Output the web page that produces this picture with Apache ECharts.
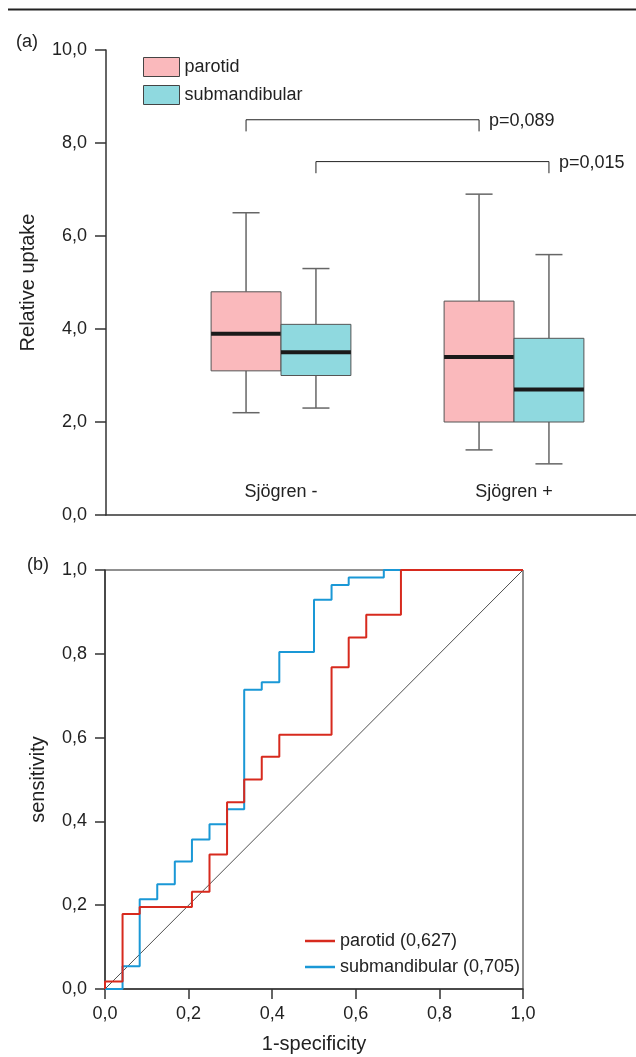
<!DOCTYPE html>
<html><head><meta charset="utf-8">
<script src="https://cdn.jsdelivr.net/npm/echarts@6/dist/echarts.min.js"></script>
<style>html,body{margin:0;padding:0;background:#fff}#c{width:636px;height:1057px}</style>
</head><body><div id="c"></div>
<script>
// ---------- data ----------
const groups = ['Sjögren -', 'Sjögren +'];
// [min, Q1, median, Q3, max]
const parotidBox = [[2.2, 3.1, 3.9, 4.8, 6.5], [1.4, 2.0, 3.4, 4.6, 6.9]];
const submandibularBox = [[2.3, 3.0, 3.5, 4.1, 5.3], [1.1, 2.0, 2.7, 3.8, 5.6]];
// [fromGroup, toGroup, side(-1 parotid / 1 submandibular), top, end]
const brackets = [[0, 1, -1, 8.5, 8.25], [0, 1, 1, 7.6, 7.35]];
const bracketLabels = ['p=0,089', 'p=0,015'];
const rocParotid = [[0,0],[0,0.018],[0.042,0.018],[0.042,0.179],[0.083,0.179],[0.083,0.196],[0.208,0.196],[0.208,0.232],[0.25,0.232],[0.25,0.321],[0.292,0.321],[0.292,0.446],[0.333,0.446],[0.333,0.5],[0.375,0.5],[0.375,0.554],[0.417,0.554],[0.417,0.607],[0.542,0.607],[0.542,0.768],[0.583,0.768],[0.583,0.839],[0.625,0.839],[0.625,0.893],[0.708,0.893],[0.708,1],[1,1]];
const rocSubmandibular = [[0,0],[0.042,0],[0.042,0.054],[0.083,0.054],[0.083,0.214],[0.125,0.214],[0.125,0.25],[0.167,0.25],[0.167,0.304],[0.208,0.304],[0.208,0.357],[0.25,0.357],[0.25,0.393],[0.292,0.393],[0.292,0.429],[0.333,0.429],[0.333,0.714],[0.375,0.714],[0.375,0.732],[0.417,0.732],[0.417,0.804],[0.5,0.804],[0.5,0.929],[0.542,0.929],[0.542,0.964],[0.583,0.964],[0.583,0.982],[0.667,0.982],[0.667,1],[1,1]];
const diagonal = [[0, 0], [1, 1]];
const rocNames = ['parotid (0,627)', 'submandibular (0,705)'];

// ---------- styles ----------
const FONT = 'Liberation Sans, Arial, Helvetica, sans-serif';
const PINK = '#FAB9BC', CYAN = '#8FD9DF';
const RED = '#D72A1E', BLUE = '#1A98D6';
const AX = '#333';
const comma1 = v => v.toFixed(1).replace('.', ',');

function boxRender(side) {
  return function (params, api) {
    const g = api.value(0);
    const cx = api.coord([g, 0])[0];
    const band = api.size([1, 0])[0];
    const w = band * 0.3;
    const x0 = side < 0 ? cx - w : cx;
    const x1 = x0 + w;
    const xm = (x0 + x1) / 2;
    const cap = band * 0.058;
    const y = i => api.coord([g, api.value(i)])[1];
    const yMin = y(1), yQ1 = y(2), yMed = y(3), yQ3 = y(4), yMax = y(5);
    const wStyle = { stroke: '#666', lineWidth: 1.5 };
    return {
      type: 'group',
      children: [
        { type: 'line', shape: { x1: xm, y1: yMax, x2: xm, y2: yQ3 }, style: wStyle },
        { type: 'line', shape: { x1: xm, y1: yQ1, x2: xm, y2: yMin }, style: wStyle },
        { type: 'line', shape: { x1: xm - cap, y1: yMax, x2: xm + cap, y2: yMax }, style: wStyle },
        { type: 'line', shape: { x1: xm - cap, y1: yMin, x2: xm + cap, y2: yMin }, style: wStyle },
        { type: 'rect', shape: { x: x0, y: yQ3, width: w, height: yQ1 - yQ3 },
          style: { fill: api.visual('color'), stroke: '#555', lineWidth: 1 } },
        { type: 'line', shape: { x1: x0, y1: yMed, x2: x1, y2: yMed }, style: { stroke: '#1a1a1a', lineWidth: 4 } }
      ]
    };
  };
}

function bracketRender(params, api) {
  const band = api.size([1, 0])[0];
  const side = api.value(2);
  const xa = api.coord([api.value(0), 0])[0] + side * band * 0.15;
  const xb = api.coord([api.value(1), 0])[0] + side * band * 0.15;
  const yt = api.coord([0, api.value(3)])[1];
  const ye = api.coord([0, api.value(4)])[1];
  return {
    type: 'group',
    children: [
      { type: 'polyline', shape: { points: [[xa, ye], [xa, yt], [xb, yt], [xb, ye]] },
        style: { stroke: '#222', lineWidth: 1, fill: null } },
      { type: 'text', x: xb + 10, y: yt + 1,
        style: { text: bracketLabels[params.dataIndex], font: '18px ' + FONT, fill: '#222', verticalAlign: 'middle', align: 'left' } }
    ]
  };
}

const chart = echarts.init(document.getElementById('c'), null, { renderer: 'canvas' });
chart.setOption({
  animation: false,
  backgroundColor: '#fff',
  textStyle: { fontFamily: FONT },
  graphic: [
    { type: 'line', shape: { x1: 8, y1: 9.5, x2: 636, y2: 9.5 }, style: { stroke: '#222', lineWidth: 2 } },
    { type: 'text', left: 16, top: 33, style: { text: '(a)', font: '18px ' + FONT, fill: '#222' } },
    { type: 'text', left: 27, top: 556, style: { text: '(b)', font: '18px ' + FONT, fill: '#222' } }
  ],
  legend: [
    { data: ['parotid', 'submandibular'], orient: 'vertical', left: 138, top: 52, itemWidth: 36, itemHeight: 19, itemGap: 8,
      icon: 'rect', selectedMode: false, itemStyle: { borderColor: '#444', borderWidth: 1 },
      textStyle: { fontSize: 18, color: '#222' } },
    { data: rocNames, orient: 'vertical', left: 300, top: 927, itemWidth: 30, itemHeight: 2.5, itemGap: 8,
      icon: 'rect', selectedMode: false, textStyle: { fontSize: 18, color: '#222', lineHeight: 18 } }
  ],
  grid: [
    { left: 106, right: 0, top: 50, bottom: 542 },
    { left: 164.5, right: 5.5, top: 50, bottom: 542 },
    { left: 105, right: 113, top: 570, bottom: 68, show: true, borderColor: '#222', borderWidth: 1, backgroundColor: 'transparent' }
  ],
  xAxis: [
    { gridIndex: 0, type: 'value', min: 0, max: 1, axisLine: { show: true, lineStyle: { color: AX, width: 1.5 } },
      axisTick: { show: false }, axisLabel: { show: false }, splitLine: { show: false } },
    { gridIndex: 1, type: 'category', data: groups, axisLine: { show: false }, axisTick: { show: false },
      axisLabel: { inside: true, margin: 14, fontSize: 18, color: '#222' }, splitLine: { show: false } },
    { gridIndex: 2, type: 'value', min: 0, max: 1, interval: 0.2,
      axisLine: { show: true, lineStyle: { color: AX, width: 1.5 } },
      axisTick: { show: true, length: 10, lineStyle: { color: AX, width: 1.5 } },
      axisLabel: { formatter: comma1, fontSize: 18, color: '#222', margin: 16 }, splitLine: { show: false },
      name: '1-specificity', nameLocation: 'middle', nameGap: 45, nameTextStyle: { fontSize: 20, color: '#222' } }
  ],
  yAxis: [
    { gridIndex: 0, type: 'value', min: 0, max: 10, interval: 2,
      axisLine: { show: true, lineStyle: { color: AX, width: 1.5 } },
      axisTick: { show: true, length: 11, lineStyle: { color: AX, width: 1.5 } },
      axisLabel: { formatter: comma1, fontSize: 18, color: '#222', margin: 19 }, splitLine: { show: false },
      name: 'Relative uptake', nameLocation: 'middle', nameGap: 68, nameTextStyle: { fontSize: 20, color: '#222' } },
    { gridIndex: 1, type: 'value', min: 0, max: 10, show: false },
    { gridIndex: 2, type: 'value', min: 0, max: 1, interval: 0.2,
      axisLine: { show: true, lineStyle: { color: AX, width: 1.5 } },
      axisTick: { show: true, length: 10, lineStyle: { color: AX, width: 1.5 } },
      axisLabel: { formatter: comma1, fontSize: 18, color: '#222', margin: 18 }, splitLine: { show: false },
      name: 'sensitivity', nameLocation: 'middle', nameGap: 57, nameTextStyle: { fontSize: 20, color: '#222' } }
  ],
  series: [
    { name: 'parotid', type: 'custom', xAxisIndex: 1, yAxisIndex: 1, itemStyle: { color: PINK },
      renderItem: boxRender(-1), encode: { x: 0, y: [1, 2, 3, 4, 5] },
      data: parotidBox.map((d, i) => [i].concat(d)) },
    { name: 'submandibular', type: 'custom', xAxisIndex: 1, yAxisIndex: 1, itemStyle: { color: CYAN },
      renderItem: boxRender(1), encode: { x: 0, y: [1, 2, 3, 4, 5] },
      data: submandibularBox.map((d, i) => [i].concat(d)) },
    { name: 'brackets', type: 'custom', xAxisIndex: 1, yAxisIndex: 1, renderItem: bracketRender,
      encode: { x: [0, 1], y: [3, 4] }, data: brackets, silent: true },
    { name: 'diag', type: 'line', xAxisIndex: 2, yAxisIndex: 2, data: diagonal, symbol: 'none',
      lineStyle: { color: '#222', width: 0.8 }, silent: true, z: 1 },
    { name: rocNames[1], type: 'line', xAxisIndex: 2, yAxisIndex: 2, data: rocSubmandibular, symbol: 'none',
      itemStyle: { color: BLUE }, lineStyle: { color: BLUE, width: 2 }, z: 2 },
    { name: rocNames[0], type: 'line', xAxisIndex: 2, yAxisIndex: 2, data: rocParotid, symbol: 'none',
      itemStyle: { color: RED }, lineStyle: { color: RED, width: 2 }, z: 3 }
  ]
});
</script></body></html>
